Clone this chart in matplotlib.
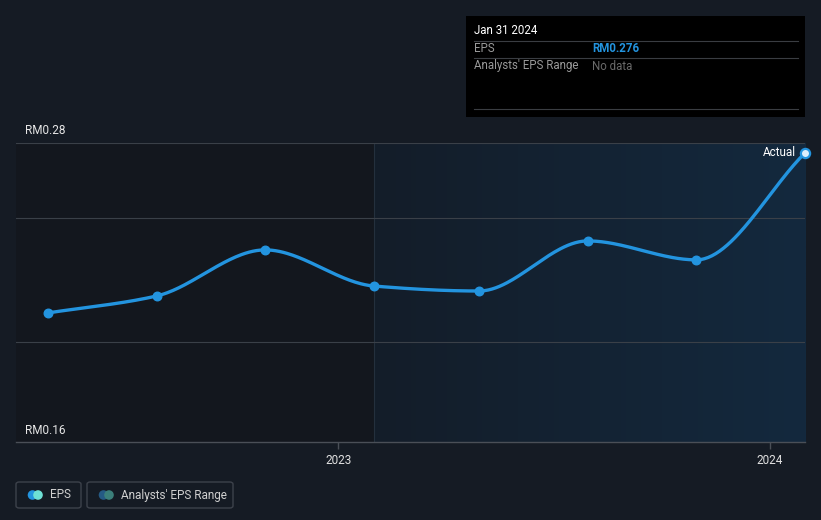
import numpy as np
import matplotlib
matplotlib.use("Agg")
import matplotlib.pyplot as plt
import matplotlib.dates as mdates
from matplotlib.patches import Rectangle, FancyBboxPatch, Circle
from datetime import datetime

plt.rcParams['font.family'] = ['Roboto', 'DejaVu Sans']

# EPS data (quarterly)
dates = ["2022-04-30", "2022-07-31", "2022-10-31", "2023-01-31",
         "2023-04-30", "2023-07-31", "2023-10-31", "2024-01-31"]
eps = [0.2118, 0.2186, 0.2371, 0.2226, 0.2206, 0.2407, 0.2331, 0.276]
y_ticks = [0.16, 0.28]
y_tick_labels = ["RM0.16", "RM0.28"]
grid_vals = [0.20, 0.25, 0.28]
x_ticks = ["2023-01-01", "2024-01-01"]
x_tick_labels = ["2023", "2024"]

W, H = 821, 520
BG = "#151b24"
BLUE = "#2394df"

fig = plt.figure(figsize=(W / 100, H / 100), dpi=100, facecolor=BG)

def fx(px):
    return px / W

def fy(py):
    return 1 - py / H

left, right, top, bottom = 16, 805, 143, 442
ax = fig.add_axes([fx(left), fy(bottom), fx(right - left), (bottom - top) / H])
ax.set_facecolor("#13171e")

x = mdates.date2num([datetime.strptime(d, "%Y-%m-%d") for d in dates])
y = np.array(eps)
xmin = mdates.date2num(datetime(2022, 4, 3))
xmax = x[-1]
ax.set_xlim(xmin, xmax)
ax.set_ylim(0.16, 0.28)

# shaded "past year" region with a horizontal gradient
grad = np.linspace(0, 1, 256).reshape(1, -1)
c0 = np.array([0x14, 0x1d, 0x29]) / 255
c1 = np.array([0x13, 0x29, 0x3e]) / 255
img = c0[None, None, :] * (1 - grad[..., None]) + c1[None, None, :] * grad[..., None]
ax.imshow(img, extent=[x[3], xmax, 0.16, 0.28], aspect="auto", zorder=0)
ax.axvline(x[3], color="#24303d", lw=0.8, zorder=1)

for g in grid_vals:
    ax.axhline(g, color="#3a4048", lw=0.8, zorder=1)


# monotone cubic (Fritsch-Carlson) for the smooth line
def pchip(xs, ys, xn):
    h = np.diff(xs)
    d = np.diff(ys) / h
    m = np.zeros_like(ys)
    for i in range(1, len(xs) - 1):
        if d[i - 1] * d[i] > 0:
            w1 = 2 * h[i] + h[i - 1]
            w2 = h[i] + 2 * h[i - 1]
            m[i] = (w1 + w2) / (w1 / d[i - 1] + w2 / d[i])
    m[0] = d[0]
    m[-1] = d[-1]
    out = np.empty_like(xn)
    for j, xv in enumerate(xn):
        i = min(np.searchsorted(xs, xv) - 1, len(xs) - 2)
        i = max(i, 0)
        t = (xv - xs[i]) / h[i]
        h00 = 2 * t**3 - 3 * t**2 + 1
        h10 = t**3 - 2 * t**2 + t
        h01 = -2 * t**3 + 3 * t**2
        h11 = t**3 - t**2
        out[j] = h00 * ys[i] + h10 * h[i] * m[i] + h01 * ys[i + 1] + h11 * h[i] * m[i + 1]
    return out


xs = np.linspace(x[0], x[-1], 400)
ax.plot(xs, pchip(x, y, xs), color=BLUE, lw=2.4, zorder=3, solid_capstyle="round", clip_on=False)
ax.scatter(x[:-1], y[:-1], s=38, color=BLUE, zorder=4)
ax.scatter(x[-1:], y[-1:], s=44, facecolor="#dceefc", edgecolor=BLUE, linewidth=1.6, zorder=4, clip_on=False)
ax.text(x[-1] - 8, y[-1], "Actual", color="white", fontsize=8.5, ha="right", va="center", zorder=5)

for s in ["top", "right", "left"]:
    ax.spines[s].set_visible(False)
ax.spines["bottom"].set_color("#4a4f57")
ax.spines["bottom"].set_linewidth(1)
ax.set_yticks([])
ax.set_xticks(mdates.date2num([datetime.strptime(d, "%Y-%m-%d") for d in x_ticks]))
ax.set_xticklabels(x_tick_labels)
ax.tick_params(axis="x", colors="#4a4f57", length=5, width=1, labelcolor="#e0e0e0", labelsize=8.5, pad=4)

fig.text(fx(25), fy(130), y_tick_labels[1], color="#e6e6e6", fontsize=8.5, va="center")
fig.text(fx(25), fy(430), y_tick_labels[0], color="#e6e6e6", fontsize=8.5, va="center")

# tooltip box
fig.patches.append(Rectangle((fx(466), fy(117)), fx(805 - 466), (117 - 16) / H,
                             transform=fig.transFigure, facecolor="black", edgecolor="none", zorder=5))
for ly in [41, 58, 109]:
    fig.lines.append(plt.Line2D([fx(474), fx(798)], [fy(ly), fy(ly)], transform=fig.transFigure,
                                color="#3a3d42", lw=0.8, zorder=6))
fig.text(fx(474), fy(31), "Jan 31 2024", color="white", fontsize=8.3, va="center", zorder=7)
fig.text(fx(474), fy(49), "EPS", color="#9a9a9a", fontsize=8.3, va="center", zorder=7)
fig.text(fx(592), fy(49), "RM0.276", color=BLUE, fontsize=8.3, fontweight="bold", va="center", zorder=7)
fig.text(fx(474), fy(66), "Analysts' EPS Range", color="#9a9a9a", fontsize=8.3, va="center", zorder=7)
fig.text(fx(592), fy(66), "No data", color="#6a6a6a", fontsize=8.3, va="center", zorder=7)

# legend
legend_items = [("EPS", 16, 81, BLUE, "#6ee0d5"), ("Analysts' EPS Range", 87, 233, "#255a84", "#3b7f7a")]
for label, x0, x1, ca, cb in legend_items:
    fig.patches.append(FancyBboxPatch((fx(x0), fy(508)), fx(x1 - x0), 26 / H,
                                      boxstyle="round,pad=0,rounding_size=0.004",
                                      transform=fig.transFigure, facecolor="none",
                                      edgecolor="#3d424b", lw=1))
    r = 4.8
    fig.patches.append(Circle((x0 + 16.5, H - 495), r, transform=None, facecolor=ca, edgecolor="none"))
    fig.patches.append(Circle((x0 + 22, H - 495), r, transform=None, facecolor=cb, edgecolor="none"))
    fig.text(fx(x0 + 34), fy(495), label, color="#d0d0d0", fontsize=8.5, va="center")

fig.savefig("out.png", dpi=100, facecolor=BG)
